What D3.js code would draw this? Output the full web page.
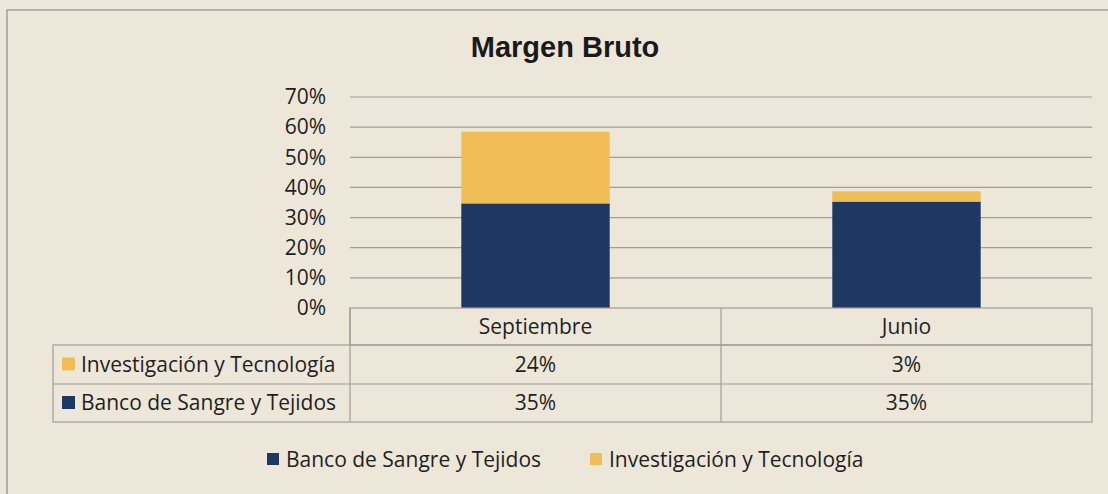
<!DOCTYPE html>
<html>
<head>
<meta charset="utf-8">
<script src="https://cdn.jsdelivr.net/npm/d3@7"></script>
<style>
  html, body { margin: 0; padding: 0; background: #ede7d9; }
  svg { display: block; }
</style>
</head>
<body>
<svg id="chart" width="1108" height="494"></svg>
<script>
// DATA
const categories = ["Septiembre", "Junio"];
const seriesNames = ["Banco de Sangre y Tejidos", "Investigación y Tecnología"];
const bancoValues = [0.347, 0.353];
const investigacionValues = [0.238, 0.034];
const yTicks = [0, 0.1, 0.2, 0.3, 0.4, 0.5, 0.6, 0.7];
const chartTitle = "Margen Bruto";

// colors, same order as seriesNames
const colors = ["#1d3862", "#f0bd57"];
const gridColor = "#a19e96";
const textFont = "'Open Sans', 'Noto Sans', sans-serif";
const textSize = "21px";

const svg = d3.select("#chart");
const W = 1108, H = 494;

// plot area
const plotLeft = 350, plotRight = 1092, plotTop = 97, plotBottom = 308;

const y = d3.scaleLinear().domain([0, 0.7]).range([plotBottom, plotTop]);
// columns of the data table (no padding) and bars inside them
const col = d3.scaleBand().domain(categories).range([plotLeft, plotRight]).padding(0);
const x = d3.scaleBand().domain(categories).range([plotLeft, plotRight])
  .paddingInner(0.6).paddingOuter(0.3);

// outer chart border
svg.append("rect")
  .attr("x", 7).attr("y", 10)
  .attr("width", W + 20).attr("height", H + 20)
  .attr("fill", "none")
  .attr("stroke", "#8f8c85")
  .attr("stroke-width", 1.2);

// title
svg.append("text")
  .attr("x", 565).attr("y", 57)
  .attr("text-anchor", "middle")
  .style("font-family", "'Liberation Sans', Arial, sans-serif")
  .style("font-weight", "bold")
  .style("font-size", "29px")
  .attr("fill", "#1a1a1a")
  .text(chartTitle);

// gridlines (0% line is the table top)
svg.append("g")
  .selectAll("line")
  .data(yTicks.filter(d => d > 0))
  .join("line")
  .attr("x1", plotLeft).attr("x2", plotRight)
  .attr("y1", d => y(d)).attr("y2", d => y(d))
  .attr("stroke", gridColor)
  .attr("stroke-width", 1.2);

// y axis labels
const yAxis = d3.axisLeft(y)
  .tickValues(yTicks)
  .tickFormat(d3.format(".0%"))
  .tickSize(0)
  .tickPadding(0);
const yAxisG = svg.append("g")
  .attr("transform", "translate(326,0)")
  .call(yAxis);
yAxisG.select(".domain").remove();
yAxisG.selectAll("text")
  .style("font-family", textFont)
  .style("font-size", textSize)
  .attr("fill", "#1f1f1f");

// stacked bars
const rows = categories.map((c, i) => ({
  cat: c,
  banco: bancoValues[i],
  inv: investigacionValues[i]
}));
const stack = d3.stack().keys(["banco", "inv"]);
const layers = stack(rows);

svg.append("g")
  .selectAll("g")
  .data(layers)
  .join("g")
  .attr("fill", (d, i) => colors[i])
  .selectAll("rect")
  .data(d => d)
  .join("rect")
  .attr("x", d => x(d.data.cat))
  .attr("width", x.bandwidth())
  .attr("y", d => y(d[1]))
  .attr("height", d => y(d[0]) - y(d[1]));

// data table
const tableLeft = 53;
const rowH = [37, 39, 38];
const rowY = [plotBottom, plotBottom + rowH[0], plotBottom + rowH[0] + rowH[1], plotBottom + rowH[0] + rowH[1] + rowH[2]];
const tbl = svg.append("g")
  .attr("stroke", gridColor)
  .attr("stroke-width", 1.2)
  .attr("fill", "none");

// header box (categories only)
tbl.append("rect")
  .attr("x", plotLeft).attr("y", rowY[0])
  .attr("width", plotRight - plotLeft).attr("height", rowH[0]);
// body box
tbl.append("rect")
  .attr("x", tableLeft).attr("y", rowY[1])
  .attr("width", plotRight - tableLeft).attr("height", rowY[3] - rowY[1]);
tbl.append("line")
  .attr("x1", tableLeft).attr("x2", plotRight)
  .attr("y1", rowY[2]).attr("y2", rowY[2]);
// column separators
tbl.selectAll("line.col")
  .data(categories)
  .join("line")
  .attr("class", "col")
  .attr("x1", d => col(d)).attr("x2", d => col(d))
  .attr("y1", rowY[0]).attr("y2", rowY[3]);

const fmt = d3.format(".0%");
const textStyle = sel => sel
  .style("font-family", textFont)
  .style("font-size", textSize)
  .attr("fill", "#1f1f1f");

// header labels
svg.append("g")
  .selectAll("text")
  .data(categories)
  .join("text")
  .attr("x", d => col(d) + col.bandwidth() / 2)
  .attr("y", (rowY[0] + rowY[1]) / 2)
  .attr("dy", "0.35em")
  .attr("text-anchor", "middle")
  .call(textStyle)
  .text(d => d);

// table rows: top row is the upper series
const tableRows = [
  { name: seriesNames[1], color: colors[1], values: investigacionValues },
  { name: seriesNames[0], color: colors[0], values: bancoValues }
];
const rowG = svg.append("g")
  .selectAll("g")
  .data(tableRows)
  .join("g")
  .attr("transform", (d, i) => `translate(0,${(rowY[i + 1] + rowY[i + 2]) / 2})`);

rowG.append("rect")
  .attr("x", 62).attr("y", -7)
  .attr("width", 13).attr("height", 13)
  .attr("fill", d => d.color);
rowG.append("text")
  .attr("x", 81).attr("dy", "0.35em")
  .call(textStyle)
  .text(d => d.name);
rowG.selectAll("text.val")
  .data(d => d.values.map((v, i) => ({ v, cat: categories[i] })))
  .join("text")
  .attr("class", "val")
  .attr("x", d => col(d.cat) + col.bandwidth() / 2)
  .attr("dy", "0.35em")
  .attr("text-anchor", "middle")
  .call(textStyle)
  .text(d => fmt(d.v));

// bottom legend
const legendX = [267, 590];
const legend = svg.append("g")
  .selectAll("g")
  .data(seriesNames)
  .join("g")
  .attr("transform", (d, i) => `translate(${legendX[i]},460)`);
legend.append("rect")
  .attr("x", 0).attr("y", -7)
  .attr("width", 12).attr("height", 12)
  .attr("fill", (d, i) => colors[i]);
legend.append("text")
  .attr("x", 19).attr("dy", "0.35em")
  .call(textStyle)
  .text(d => d);
</script>
</body>
</html>
